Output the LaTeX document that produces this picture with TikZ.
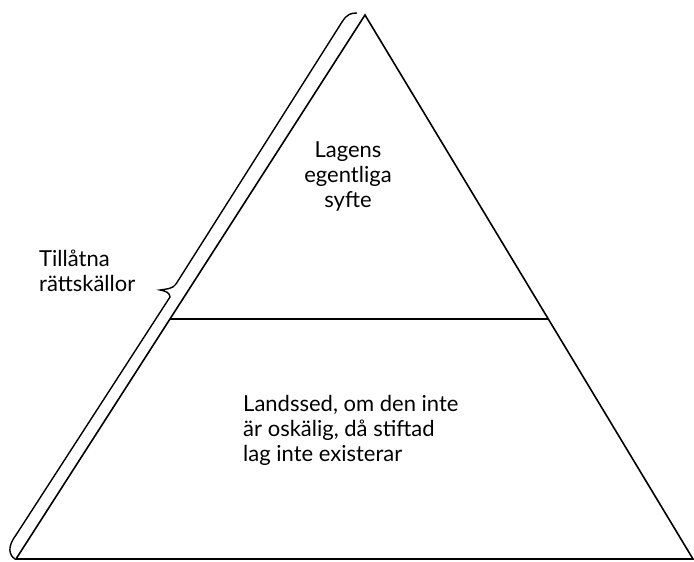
\documentclass[tikz,border=0pt]{standalone}
\usepackage{fontspec}
\setmainfont{Lato}
\usetikzlibrary{calc}
\begin{document}
\begin{tikzpicture}[x=1pt,y=-1pt,
  edge/.style={line width=1.6pt,line join=miter},
  lbl/.style={inner sep=0pt,font=\fontsize{22}{25}\selectfont}]
\useasboundingbox (0,0) rectangle (694,562);
\coordinate (A) at (365,15);
\coordinate (B) at (16,559);
\coordinate (C) at (693,559);
\coordinate (DL) at ($(A)!0.5588!(B)$);
\coordinate (DR) at ($(A)!0.5588!(C)$);
\draw[edge] (B) -- (A) -- (C) -- cycle;
\draw[edge] (DL) -- (DR);
% brace
\coordinate (T1) at (357,13);
\coordinate (T2) at (342,22);
\coordinate (M1) at (176,284);
\coordinate (Tip) at (160,290);
\coordinate (M2) at (170,297);
\coordinate (E1) at (16,535);
\coordinate (E2) at (15,559);
\draw[edge,line width=1.4pt] (T1) .. controls (351,13) and (347,14) .. (T2) -- (M1)
  .. controls (173,289) and (166,289) .. (Tip)
  .. controls (166,291) and (170,293) .. (M2) -- (E1)
  .. controls (7,547) and (9,555) .. (E2);
\node[lbl,align=center,anchor=north] (top) at (348,142) {Lagens\\egentliga\\syfte};
\node[lbl,align=left,anchor=north west] (left) at (39,250) {Tillåtna\\rättskällor};
\node[lbl,align=left,anchor=north west] (bottom) at (243,395) {Landssed, om den inte\\är oskälig, då stiftad\\lag inte existerar};
\end{tikzpicture}
\end{document}
